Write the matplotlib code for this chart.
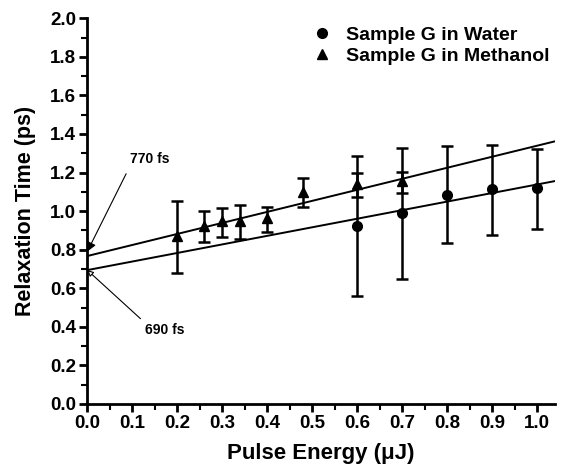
import numpy as np
import matplotlib.pyplot as plt
from matplotlib.ticker import MultipleLocator
from matplotlib.lines import Line2D

plt.rcParams['font.family'] = ['Liberation Sans', 'DejaVu Sans']
plt.rcParams['font.weight'] = 'bold'

# Sample G in Water
e_water = [0.6, 0.7, 0.8, 0.9, 1.0]
t_water = [0.922, 0.988, 1.085, 1.113, 1.118]
lo_water = [0.56, 0.649, 0.833, 0.876, 0.908]
hi_water = [1.285, 1.325, 1.337, 1.345, 1.321]

# Sample G in Methanol
e_meth = [0.2, 0.26, 0.30, 0.34, 0.40, 0.48, 0.6, 0.7]
t_meth = [0.87, 0.925, 0.95, 0.947, 0.965, 1.10, 1.14, 1.155]
lo_meth = [0.68, 0.841, 0.867, 0.857, 0.891, 1.022, 1.074, 1.092]
hi_meth = [1.052, 1.002, 1.016, 1.03, 1.022, 1.17, 1.198, 1.202]

# linear fits (intercept, slope)
fit_water = (0.694, 0.444)
fit_meth = (0.767, 0.572)

fig = plt.figure(figsize=(5.63, 4.67), dpi=100)
ax = fig.add_axes([0.155, 0.135, 0.831, 0.826])

xf = np.array([0.0, 1.05])
ax.plot(xf, fit_meth[0] + fit_meth[1] * xf, color='k', lw=1.4)
ax.plot(xf, fit_water[0] + fit_water[1] * xf, color='k', lw=1.4)

tw = np.array(t_water)
ax.errorbar(e_water, t_water,
            yerr=[tw - np.array(lo_water), np.array(hi_water) - tw],
            fmt='o', color='k', ms=7, elinewidth=1.8, capsize=4, capthick=1.8)
tm = np.array(t_meth)
ax.errorbar(e_meth, t_meth,
            yerr=[tm - np.array(lo_meth), np.array(hi_meth) - tm],
            fmt='^', color='k', ms=7, elinewidth=1.8, capsize=4, capthick=1.8)

ax.annotate('770 fs', xy=(0.0, 0.79), xytext=(0.095, 1.27),
            fontsize=10, fontweight='bold', ha='left', va='center',
            arrowprops=dict(arrowstyle='-|>', color='k', lw=0.8,
                            shrinkA=4, shrinkB=0, mutation_scale=14,
                            relpos=(0.0, 0.0)))
ax.annotate('690 fs', xy=(0.0, 0.694), xytext=(0.129, 0.383),
            fontsize=10, fontweight='bold', ha='left', va='center',
            arrowprops=dict(arrowstyle='-|>', color='k', lw=0.8,
                            shrinkA=2, shrinkB=0, mutation_scale=9, fc='white',
                            relpos=(0.0, 1.0)))

ax.set_xlim(0, 1.04)
ax.set_ylim(0, 2.0)
ax.xaxis.set_minor_locator(MultipleLocator(0.05))
ax.yaxis.set_minor_locator(MultipleLocator(0.1))
ax.set_xticks(np.arange(0, 1.01, 0.1))
ax.set_xticklabels([f'{v:.1f}' for v in np.arange(0, 1.01, 0.1)])
ax.set_yticks(np.arange(0, 2.01, 0.2))
ax.set_yticklabels([f'{v:.1f}' for v in np.arange(0, 2.01, 0.2)])

for s in ['top', 'right']:
    ax.spines[s].set_visible(False)
for s in ['left', 'bottom']:
    ax.spines[s].set_linewidth(2)
ax.tick_params(which='major', length=6, width=2, labelsize=13.5, pad=2)
ax.tick_params(which='minor', length=4, width=1.5)
for lab in ax.get_xticklabels() + ax.get_yticklabels():
    lab.set_fontweight('bold')

ax.set_xlabel('Pulse Energy (\u03bcJ)', fontsize=16, fontweight='bold', labelpad=8)
ax.set_ylabel('Relaxation Time (ps)', fontsize=15.5, fontweight='bold', labelpad=10)

handles = [Line2D([], [], ls='none', marker='o', color='k', ms=7),
           Line2D([], [], ls='none', marker='^', color='k', ms=7)]
ax.legend(handles, ['Sample G in Water', 'Sample G in Methanol'],
          loc='upper right', frameon=False, fontsize=14,
          handletextpad=0.5, borderaxespad=0.0, labelspacing=0.2,
          handlelength=1.5, bbox_to_anchor=(1.005, 1.0))

fig.savefig('out.png', dpi=100)
